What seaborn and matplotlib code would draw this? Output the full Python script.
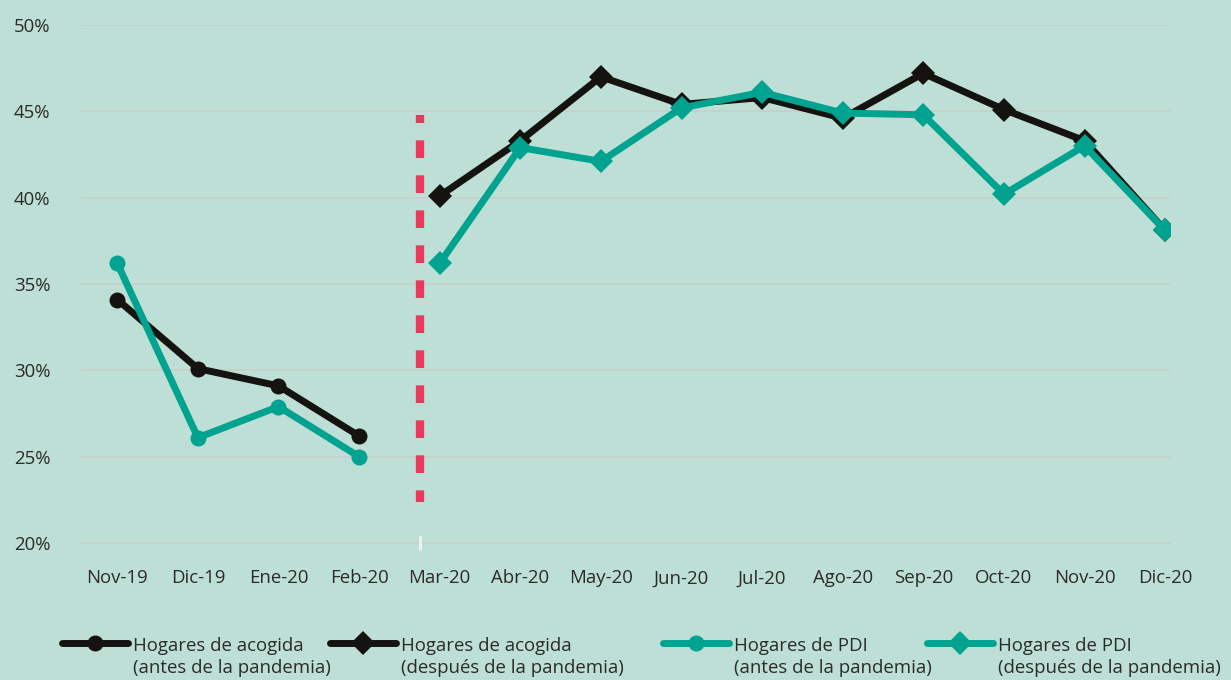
import numpy as np
import pandas as pd
import matplotlib
matplotlib.use("Agg")
import matplotlib.pyplot as plt
import seaborn as sns
from matplotlib.lines import Line2D
from matplotlib.legend_handler import HandlerLine2D

# Months on the horizontal axis
months = ["Nov-19", "Dic-19", "Ene-20", "Feb-20", "Mar-20", "Abr-20", "May-20",
          "Jun-20", "Jul-20", "Ago-20", "Sep-20", "Oct-20", "Nov-20", "Dic-20"]
months_pre = months[:4]
months_post = months[4:]

# Percent of households (before / after the pandemic)
acogida_pre = [34.1, 30.1, 29.1, 26.2]
acogida_post = [40.1, 43.3, 47.0, 45.4, 45.8, 44.6, 47.2, 45.1, 43.3, 38.1]
pdi_pre = [36.2, 26.1, 27.9, 25.0]
pdi_post = [36.2, 42.9, 42.1, 45.2, 46.1, 44.9, 44.8, 40.2, 43.0, 38.1]

labels = ["Hogares de acogida\n(antes de la pandemia)",
          "Hogares de acogida\n(después de la pandemia)",
          "Hogares de PDI\n(antes de la pandemia)",
          "Hogares de PDI\n(después de la pandemia)"]

y_ticks = [20, 25, 30, 35, 40, 45, 50]
divider_x = 3.75
divider_span = (44.8, 22.4)

BG = "#bddfd5"
BLACK = "#15130f"
TEAL = "#00a290"
RED = "#e83a5b"
GRID = "#c9cfcb"
TEXT = "#2b2b2b"
FS = 13.4

sns.set_style("white", {"axes.facecolor": BG, "figure.facecolor": BG})
plt.rcParams["font.family"] = ["Open Sans", "DejaVu Sans"]

fig = plt.figure(figsize=(12.31, 6.80), dpi=100)
ax = fig.add_axes([81 / 1231, 1 - 543 / 680, (1170 - 81) / 1231, (543 - 25) / 680])
ax.set_facecolor(BG)

pos = {m: i for i, m in enumerate(months)}
series = [
    (months_pre, acogida_pre, labels[0], BLACK, "o", 11.5),
    (months_post, acogida_post, labels[1], BLACK, "D", 12.5),
    (months_pre, pdi_pre, labels[2], TEAL, "o", 11.5),
    (months_post, pdi_post, labels[3], TEAL, "D", 12.5),
]
handles = []
for mlist, vals, lab, col, mk, ms in series:
    df = pd.DataFrame({"x": [pos[m] for m in mlist], "y": vals})
    sns.lineplot(data=df, x="x", y="y", ax=ax, color=col, linewidth=5,
                 marker=mk, markersize=ms, markeredgewidth=0,
                 sort=False, legend=False, zorder=3)
    handles.append(ax.get_lines()[-1])

# pandemic divider, drawn top to bottom
ax.plot([divider_x, divider_x], list(divider_span), color=RED, linewidth=6,
        linestyle=(1.16, (2.12, 2.08)), dash_capstyle="butt", zorder=2)
ax.plot([divider_x, divider_x], [19.65, 20.35], color="#eef2f0", linewidth=2.2,
        clip_on=False, zorder=4)

ax.set_xlim(-0.45, 13.06)
ax.set_ylim(20, 50)
ax.set_xticks(range(len(months)))
ax.set_xticklabels(months)
ax.set_yticks(y_ticks)
ax.set_yticklabels([f"{v}%" for v in y_ticks])
ax.set_xlabel("")
ax.set_ylabel("")

for v in y_ticks[1:]:
    ax.axhline(v, color=GRID, linewidth=1.2, zorder=1)

for s in ["top", "right", "left"]:
    ax.spines[s].set_visible(False)
ax.spines["bottom"].set_color(GRID)
ax.spines["bottom"].set_linewidth(1.2)
ax.tick_params(axis="x", length=7, width=1.2, color=GRID, labelcolor=TEXT,
               labelsize=FS, pad=12)
ax.tick_params(axis="y", length=0, labelsize=FS, labelcolor=TEXT, pad=22)


class RaisedLineHandler(HandlerLine2D):
    """Line handle aligned with the first text line of a two-line label."""

    def create_artists(self, legend, orig_handle, xdescent, ydescent,
                       width, height, fontsize, trans):
        return super().create_artists(legend, orig_handle, xdescent,
                                      ydescent - 21, width, height, fontsize, trans)


legend_x = [62, 330, 663, 927]
for h, lab, lx in zip(handles, labels, legend_x):
    leg = fig.legend(handles=[h], labels=[lab], loc="upper left",
                     bbox_to_anchor=(lx / 1231, 1 - 637 / 680),
                     frameon=False, fontsize=FS, handlelength=3.55,
                     handletextpad=0.25, borderpad=0, borderaxespad=0,
                     handler_map={Line2D: RaisedLineHandler()})
    for t in leg.get_texts():
        t.set_color(TEXT)
        t.set_linespacing(1.32)

fig.savefig("out.png", dpi=100, facecolor=BG)
